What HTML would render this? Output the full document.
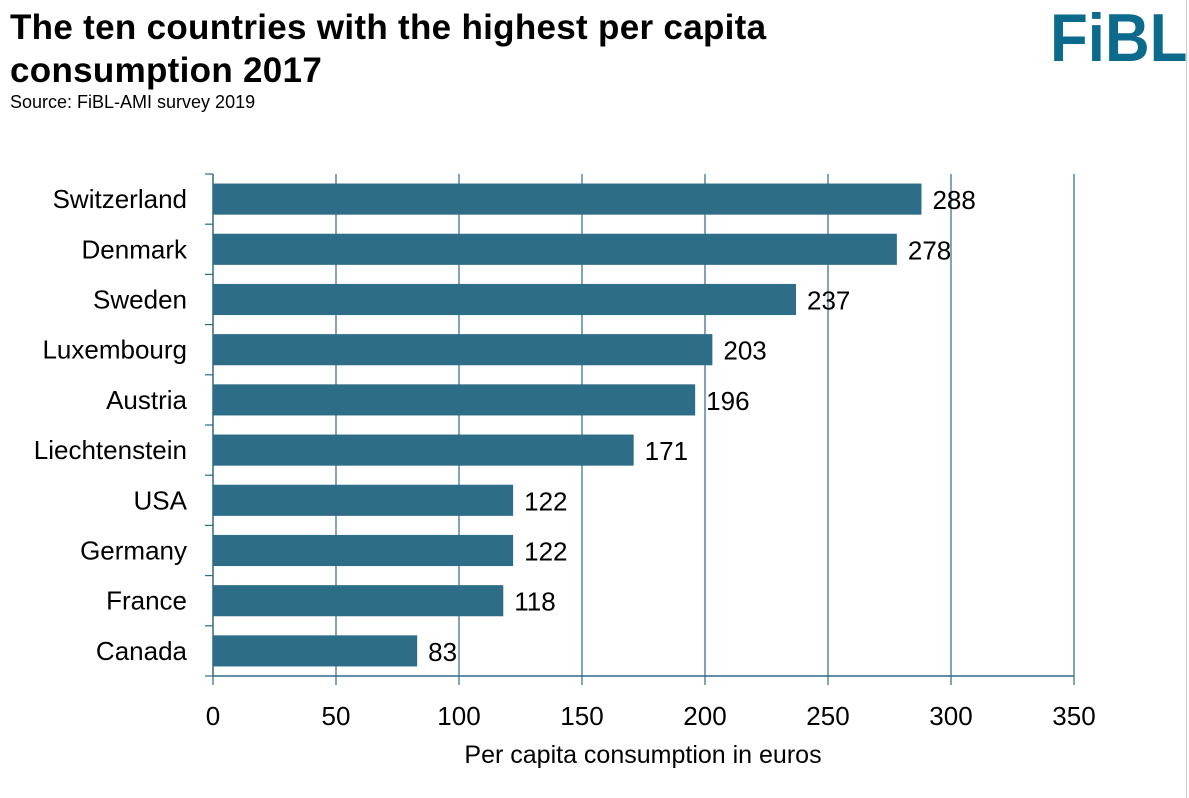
<!DOCTYPE html>
<html><head><meta charset="utf-8"><style>
body{margin:0;background:#fff;width:1189px;height:798px;overflow:hidden;font-family:"Liberation Sans",sans-serif;}
.t{position:absolute;left:10px;top:6px;font-size:35px;font-weight:bold;line-height:43px;color:#000;letter-spacing:0.3px;}
.s{position:absolute;left:10px;top:92px;font-size:18px;color:#000;}
.logo{position:absolute;left:1050px;top:-1px;font-size:68px;font-weight:bold;color:#0c6a8c;transform:scaleX(0.91);transform-origin:left top;}
</style></head><body>
<div class="t">The ten countries with the highest per capita<br>consumption 2017</div>
<div class="s">Source: FiBL-AMI survey 2019</div>
<div class="logo">FiBL</div>
<div style="position:absolute;left:1186px;top:0;width:1px;height:798px;background:#ccc"></div>
<svg id="c" width="1189" height="798" style="position:absolute;left:0;top:0"></svg>
<script>
const categories=["Switzerland","Denmark","Sweden","Luxembourg","Austria","Liechtenstein","USA","Germany","France","Canada"];
const values=[288,278,237,203,196,171,122,122,118,83];
const ticks=[0,50,100,150,200,250,300,350];
const svg=document.getElementById('c');const NS='http://www.w3.org/2000/svg';
const x0=213,x1=1074,y0=174,y1=676,maxV=350;
const X=v=>x0+(v/maxV)*(x1-x0);
const band=(y1-y0)/categories.length;
function el(t,a,p){const e=document.createElementNS(NS,t);for(const k in a)e.setAttribute(k,a[k]);(p||svg).appendChild(e);return e;}
const C='#2f6a85';
ticks.forEach(t=>{if(t>0){const g=el('line',{x1:X(t),x2:X(t),y1:y0,y2:y1+9,stroke:C,'stroke-width':1.2});

}
else{el('line',{x1:X(t),x2:X(t),y1:y1,y2:y1+9,stroke:C,'stroke-width':1.2});}
const tx=el('text',{x:X(t),y:y1+49,'text-anchor':'middle','font-size':26,fill:'#000'});tx.textContent=t;

});
for(let i=0;i<=categories.length;i++){el('line',{x1:x0-8,x2:x0,y1:y0+i*band,y2:y0+i*band,stroke:C,'stroke-width':1.2});}
categories.forEach((c,i)=>{const cy=y0+band*(i+0.5),h=band*0.62;
const r=el('rect',{x:x0,y:cy-h/2,width:X(values[i])-x0,height:h,fill:'#2e6d87'});


const l=el('text',{x:X(values[i])+11,y:cy+10,'text-anchor':'start','font-size':26,fill:'#000'});l.textContent=values[i];


const cl=el('text',{x:187,y:cy+9,'text-anchor':'end','font-size':26,fill:'#000'});cl.textContent=c;

});
el('line',{x1:x0,x2:x0,y1:y0,y2:y1,stroke:C,'stroke-width':1.5});
el('line',{x1:x0,x2:x1,y1:y1,y2:y1,stroke:C,'stroke-width':1.5});
const at=el('text',{x:643,y:763,'text-anchor':'middle','font-size':25,fill:'#000'});at.textContent='Per capita consumption in euros';


</script>
</body></html>
